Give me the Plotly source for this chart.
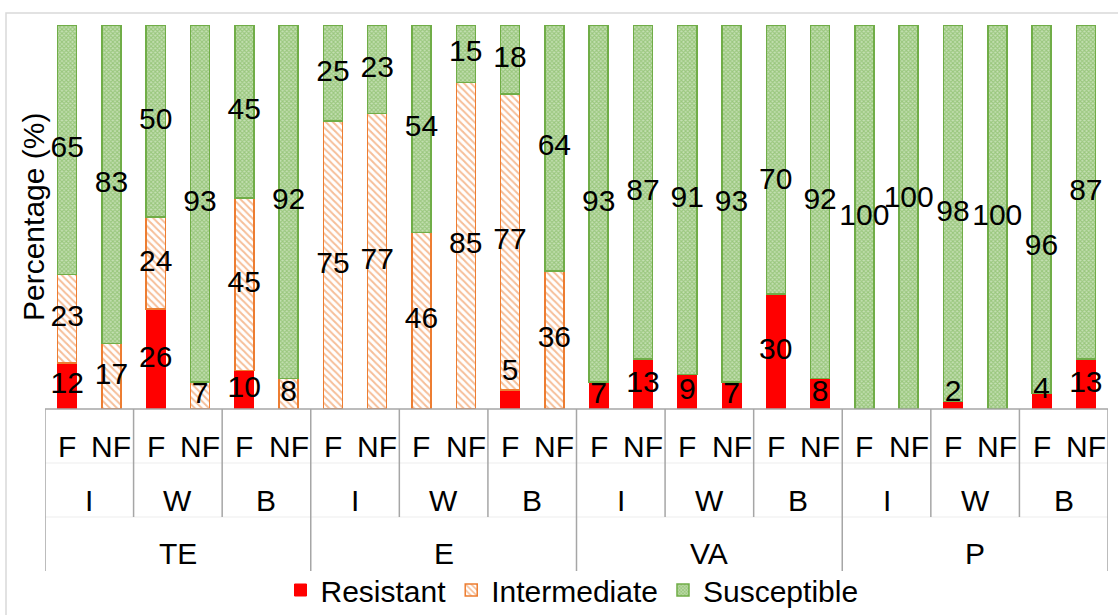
import plotly.graph_objects as go

# ---- data ----
metals = ["TE", "E", "VA", "P"]
sites = ["I", "W", "B"]
types = ["F", "NF"]
resistant = [12, 0, 26, 0, 10, 0,
             0, 0, 0, 0, 5, 0,
             7, 13, 9, 7, 30, 8,
             0, 0, 2, 0, 4, 13]
intermediate = [23, 17, 24, 7, 45, 8,
                75, 77, 46, 85, 77, 36,
                0, 0, 0, 0, 0, 0,
                0, 0, 0, 0, 0, 0]
susceptible = [65, 83, 50, 93, 45, 92,
               25, 23, 54, 15, 18, 64,
               93, 87, 91, 93, 70, 92,
               100, 100, 98, 100, 96, 87]

# label nudges as in the reference (series index, bar index) -> pixels up
label_nudge_px = {(0, 10): 27, (0, 20): 12, (0, 22): 11,
                  (2, 16): -22, (2, 19): 18, (2, 22): -38}

W, H = 1118, 615
ML, MR, MT, MB = 45, 10, 25, 206
PH = H - MT - MB
FONT = "Arial, Liberation Sans, sans-serif"
FS = 30

n = len(resistant)
xs = list(range(n))

def py(pix):
    """pixel y (from top) -> paper coordinate"""
    return 1 - (pix - MT) / PH

def px(pix):
    return (pix - ML) / (W - ML - MR)

fig = go.Figure()
fig.add_bar(x=xs, y=resistant, name="Resistant", width=0.43,
            marker=dict(color="#FF0000", line=dict(color="#FF0000", width=1)))
fig.add_bar(x=xs, y=intermediate, name="Intermediate", width=0.43,
            marker=dict(color="white", line=dict(color="#ED7D31", width=1.5),
                        pattern=dict(shape="\\", fgcolor="#ED7D31", bgcolor="white",
                                     size=5, solidity=0.4)))
fig.add_bar(x=xs, y=susceptible, name="Susceptible", width=0.43,
            marker=dict(color="#70AD47", line=dict(color="#70AD47", width=1.5),
                        pattern=dict(shape="x", fgcolor="#70AD47", bgcolor="#C5E0B4",
                                     size=3, solidity=0.6)))

# labels, centred in each segment
series = [resistant, intermediate, susceptible]
units_per_px = 100 / PH
for k, s in enumerate(series):
    lx, ly, lt = [], [], []
    for i in range(n):
        if s[i] == 0:
            continue
        base = sum(series[j][i] for j in range(k))
        lx.append(i)
        ly.append(base + s[i] / 2 + label_nudge_px.get((k, i), 0) * units_per_px)
        lt.append(str(s[i]))
    fig.add_scatter(x=lx, y=ly, text=lt, mode="text", showlegend=False,
                    textfont=dict(family=FONT, size=FS, color="black"),
                    textposition="middle center", cliponaxis=False, hoverinfo="skip")

ann = []
shapes = []
LINE = dict(color="#A6A6A6", width=1.5)
FAINT = dict(color="#EDEDED", width=1)
# level 1: F / NF
for i in xs:
    ann.append(dict(x=i, y=py(446), xref="x", yref="paper", text=types[i % 2],
                    showarrow=False, font=dict(family=FONT, size=FS, color="black"),
                    xanchor="center", yanchor="middle"))
# level 2: sites
for p in range(n // 2):
    ann.append(dict(x=2 * p + 0.5, y=py(500), xref="x", yref="paper",
                    text=sites[p % 3], showarrow=False,
                    font=dict(family=FONT, size=FS, color="black"),
                    xanchor="center", yanchor="middle"))
# level 3: metals
for g, m in enumerate(metals):
    ann.append(dict(x=6 * g + 2.5, y=py(553), xref="x", yref="paper",
                    text=m, showarrow=False,
                    font=dict(family=FONT, size=FS, color="black"),
                    xanchor="center", yanchor="middle"))
# faint row separators
for yy in (463, 517):
    shapes.append(dict(type="line", xref="x", yref="paper", x0=-0.5, x1=n - 0.5,
                       y0=py(yy), y1=py(yy), line=FAINT, layer="below"))
# separator lines
for b in range(n // 2 + 1):
    xb = 2 * b - 0.5
    bottom = py(571) if b % 3 == 0 else py(517)
    shapes.append(dict(type="line", xref="x", yref="paper", x0=xb, x1=xb,
                       y0=0, y1=bottom, line=LINE))
shapes.append(dict(type="line", xref="x", yref="paper", x0=-0.5, x1=n - 0.5,
                   y0=0, y1=0, line=LINE))
# outer chart border
shapes.append(dict(type="rect", xref="paper", yref="paper",
                   x0=px(6), x1=px(1130), y0=py(13), y1=py(640),
                   line=dict(color="#D9D9D9", width=1.5)))

ann.append(dict(x=px(33), y=0.5, xref="paper", yref="paper", text="Percentage (%)",
                textangle=-90, showarrow=False,
                font=dict(family=FONT, size=FS, color="black"),
                xanchor="center", yanchor="middle"))

fig.update_layout(
    width=W, height=H,
    margin=dict(l=ML, r=MR, t=MT, b=MB, autoexpand=False),
    barmode="stack",
    plot_bgcolor="white", paper_bgcolor="white",
    font=dict(family=FONT, size=FS, color="black"),
    xaxis=dict(range=[-0.5, n - 0.5], showticklabels=False, showgrid=False,
               zeroline=False, showline=False, ticks=""),
    yaxis=dict(range=[0, 100], showticklabels=False, showgrid=False,
               zeroline=False, showline=False, ticks=""),
    legend=dict(orientation="h", x=px(572), xanchor="center", y=py(590),
                yanchor="middle", traceorder="normal",
                font=dict(family=FONT, size=FS, color="black"),
                itemwidth=30, bgcolor="rgba(0,0,0,0)"),
    annotations=ann, shapes=shapes,
)

fig.write_html("out.html", config={"displayModeBar": False},
               post_script="document.body.style.margin='0px';document.body.style.overflow='hidden';")
